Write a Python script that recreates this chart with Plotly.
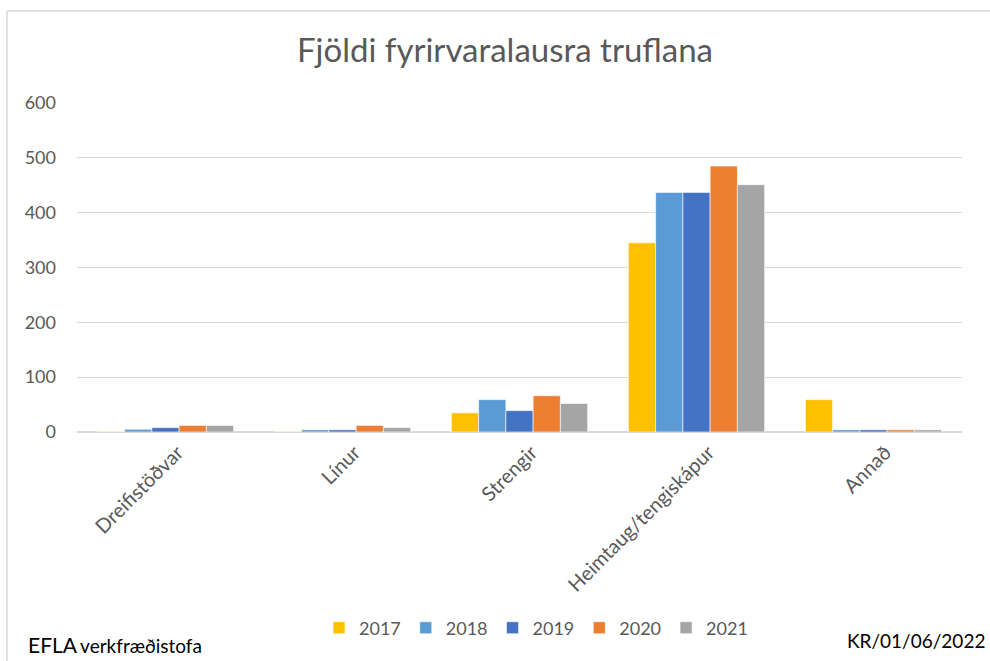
import plotly.graph_objects as go

categories = ["Dreifistöðvar", "Línur", "Strengir", "Heimtaug/tengiskápur", "Annað"]
years = ["2017", "2018", "2019", "2020", "2021"]
values_2017 = [1, 1, 35, 345, 59]
values_2018 = [5, 4, 59, 437, 4]
values_2019 = [8, 4, 39, 437, 4]
values_2020 = [12, 12, 66, 485, 4]
values_2021 = [12, 8, 52, 451, 4]
series = [values_2017, values_2018, values_2019, values_2020, values_2021]
colors = ["#FFC000", "#5B9BD5", "#4472C4", "#ED7D31", "#A5A5A5"]

FONT = "Lato, 'Open Sans', sans-serif"
GRAY = "#595959"

W, H = 990, 661
L, R, T, B = 77, 28, 103, 229
pw, ph = W - L - R, H - T - B


def px_x(x):
    return (x - L) / pw


def px_y(y):
    return (H - B - y) / ph


fig = go.Figure()
for name, vals, col in zip(years, series, colors):
    fig.add_trace(go.Bar(
        x=categories, y=vals, name=name,
        marker=dict(color=col, line=dict(color="white", width=0.6)),
    ))

fig.update_layout(
    width=W, height=H,
    margin=dict(l=L, r=R, t=T, b=B),
    paper_bgcolor="white", plot_bgcolor="white",
    barmode="group", bargap=0.23, bargroupgap=0,
    font=dict(family=FONT, color=GRAY),
    title=dict(
        text="Fjöldi fyrirvaralausra truflana",
        x=px_x(505), xref="paper", xanchor="center",
        y=1 - 50 / H, yref="container", yanchor="middle",
        font=dict(size=33, color=GRAY, family=FONT),
    ),
    xaxis=dict(
        tickangle=-45, tickfont=dict(size=20, color=GRAY),
        showgrid=False, showline=True, linecolor="#d9d9d9", linewidth=1,
        ticks="", ticklabelshift=12,
    ),
    yaxis=dict(
        range=[0, 600], dtick=100, tickfont=dict(size=18, color=GRAY),
        gridcolor="#d9d9d9", gridwidth=1, zeroline=True, zerolinecolor="#d9d9d9",
        showline=False, ticklabelstandoff=20,
    ),
    legend=dict(
        orientation="h", x=px_x(536), xanchor="center",
        y=px_y(628), yanchor="middle",
        font=dict(size=18, color=GRAY), traceorder="normal",
    ),
    showlegend=True,
)

# Frame around the chart area
fig.add_shape(type="line", xref="paper", yref="paper",
              x0=px_x(7), x1=px_x(W + 5), y0=px_y(11), y1=px_y(11),
              line=dict(color="#d9d9d9", width=1.5))
fig.add_shape(type="line", xref="paper", yref="paper",
              x0=px_x(7), x1=px_x(7), y0=px_y(11), y1=px_y(H + 5),
              line=dict(color="#d9d9d9", width=1.5))

fig.add_annotation(
    xref="paper", yref="paper", x=px_x(26), y=px_y(659),
    xanchor="left", yanchor="bottom", showarrow=False,
    text="<span style='font-size:21px'>EFLA</span> <span style='font-size:19px'>verkfræðistofa</span>",
    font=dict(family=FONT, color="black"),
)
fig.add_annotation(
    xref="paper", yref="paper", x=px_x(987), y=px_y(640),
    xanchor="right", yanchor="middle", showarrow=False,
    text="KR/01/06/2022", font=dict(family=FONT, size=19, color="black"),
)

fig.write_html("out.html")
